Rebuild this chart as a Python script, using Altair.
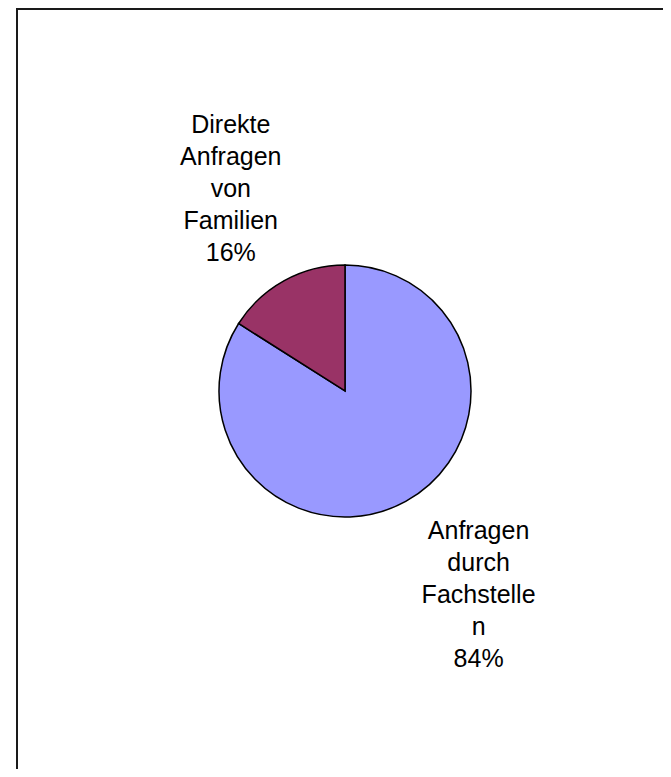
import altair as alt
import pandas as pd

categories = ["Anfragen durch Fachstellen", "Direkte Anfragen von Familien"]
shares = [84, 16]
label_lines = [
    ["Anfragen", "durch", "Fachstelle", "n", "84%"],
    ["Direkte", "Anfragen", "von", "Familien", "16%"],
]
colors = ["#9999FF", "#993366"]
stack_order = [1, 2]

df = pd.DataFrame({
    "category": categories,
    "share": shares,
    "label": ["\n".join(l) for l in label_lines],
    "ord": stack_order,
})

W, H = 655, 761
CX, CY = 337, 383

base = alt.Chart(df)

theta = alt.Theta("share:Q", stack=True)
order = alt.Order("ord:Q")

pie = base.mark_arc(radius=126, stroke="black", strokeWidth=1.5).encode(
    theta=theta,
    order=order,
    color=alt.Color("category:N", scale=alt.Scale(domain=categories, range=colors), legend=None),
    x=alt.value(CX),
    y=alt.value(CY),
)

def label_layer(cat, radius, dx, dy):
    return base.transform_calculate(
        lab=f"datum.category == '{cat}' ? datum.label : ''"
    ).mark_text(
        radius=radius, fontSize=25, font="Liberation Sans", lineBreak="\n",
        lineHeight=32, align="center", baseline="middle", color="black", dx=dx, dy=dy,
    ).encode(
        theta=theta,
        order=order,
        detail="category:N",
        text="lab:N",
        x=alt.value(CX),
        y=alt.value(CY),
    )

lab_small = label_layer(categories[1], 235, -1, -60)
lab_big = label_layer(categories[0], 242, 17, -72)

frame_left = base.mark_rule(color="#1a1a1a", strokeWidth=2).encode(
    x=alt.value(9), y=alt.value(0), y2=alt.value(H)
)
frame_top = base.mark_rule(color="#1a1a1a", strokeWidth=2).encode(
    x=alt.value(8), x2=alt.value(W), y=alt.value(1)
)

chart = alt.layer(frame_left, frame_top, pie, lab_small, lab_big).properties(
    width=W, height=H,
    autosize=alt.AutoSizeParams(type="none"),
    padding=0,
).configure_view(stroke=None)

chart.save("out.html", embed_options={"renderer": "svg", "actions": False})
